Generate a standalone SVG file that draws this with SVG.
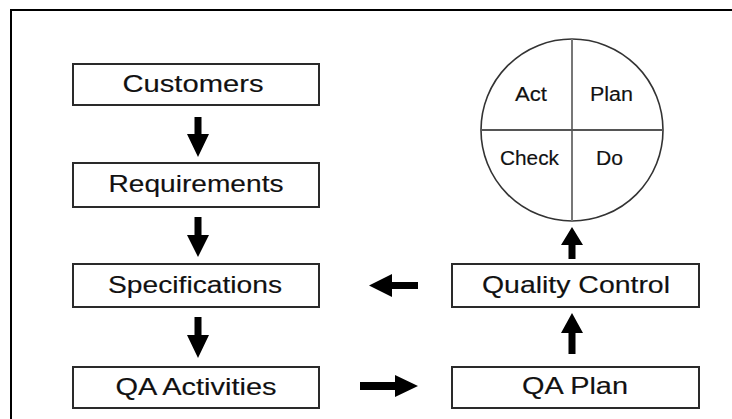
<svg xmlns="http://www.w3.org/2000/svg" width="732" height="419" viewBox="0 0 732 419">
<style>
.box{fill:#fff;stroke:#2a2a2a;stroke-width:2}
.lbl{font-family:"Liberation Sans",Arial,sans-serif;font-size:24px;fill:#111;stroke:#111;stroke-width:0.15;text-anchor:middle}
.small{font-family:"Liberation Sans",Arial,sans-serif;font-size:20px;fill:#111;stroke:#111;stroke-width:0.15;text-anchor:middle}
.arrow{fill:#000}
</style>
<rect width="732" height="419" fill="#fff"/>
<g id="frame">
<line x1="11" y1="10" x2="732" y2="10" stroke="#000" stroke-width="2"/>
<line x1="11" y1="9" x2="11" y2="419" stroke="#000" stroke-width="2"/>
</g>
<g id="customers"><rect class="box" x="73" y="64" width="246" height="41"/><text class="lbl" x="193" y="92" textLength="141" lengthAdjust="spacingAndGlyphs">Customers</text></g>
<g id="requirements"><rect class="box" x="73" y="163" width="246" height="44"/><text class="lbl" x="196" y="192" textLength="175" lengthAdjust="spacingAndGlyphs">Requirements</text></g>
<g id="specifications"><rect class="box" x="73" y="264" width="246" height="43"/><text class="lbl" x="195" y="293" textLength="174" lengthAdjust="spacingAndGlyphs">Specifications</text></g>
<g id="qa-activities"><rect class="box" x="73" y="367" width="246" height="41"/><text class="lbl" x="196" y="395" textLength="161" lengthAdjust="spacingAndGlyphs">QA Activities</text></g>
<g id="quality-control"><rect class="box" x="452" y="264" width="247" height="43"/><text class="lbl" x="576" y="293" textLength="188" lengthAdjust="spacingAndGlyphs">Quality Control</text></g>
<g id="qa-plan"><rect class="box" x="452" y="367" width="247" height="41"/><text class="lbl" x="575" y="394" textLength="106" lengthAdjust="spacingAndGlyphs">QA Plan</text></g>
<g id="pdca">
<circle cx="572" cy="130" r="91" fill="#fff" stroke="#333" stroke-width="1.6"/>
<line x1="572" y1="39" x2="572" y2="221" stroke="#777" stroke-width="2"/>
<line x1="481" y1="130" x2="663" y2="130" stroke="#555" stroke-width="2"/>
<text class="small" x="531" y="101" textLength="32" lengthAdjust="spacingAndGlyphs">Act</text>
<text class="small" x="611.5" y="101" textLength="43" lengthAdjust="spacingAndGlyphs">Plan</text>
<text class="small" x="529.5" y="165" textLength="59" lengthAdjust="spacingAndGlyphs">Check</text>
<text class="small" x="609.5" y="165" textLength="27" lengthAdjust="spacingAndGlyphs">Do</text>
</g>
<g id="connectors">
<polygon class="arrow" points="194.5,117 201.5,117 201.5,134 209,134 198,157 187,134 194.5,134"/>
<polygon class="arrow" points="194.5,217 201.5,217 201.5,235 209,235 198,257 187,235 194.5,235"/>
<polygon class="arrow" points="194.5,317 201.5,317 201.5,335 209,335 198,358 187,335 194.5,335"/>
<polygon class="arrow" points="568.5,259 575.5,259 575.5,245 583,245 572,227 561,245 568.5,245"/>
<polygon class="arrow" points="568.5,354 575.5,354 575.5,333 583,333 572,313 561,333 568.5,333"/>
<polygon class="arrow" points="418,282 418,289 392,289 392,297 369,285.5 392,274 392,282"/>
<polygon class="arrow" points="360,382 360,390 395,390 395,397 418,386 395,375 395,382"/>
</g>
</svg>
